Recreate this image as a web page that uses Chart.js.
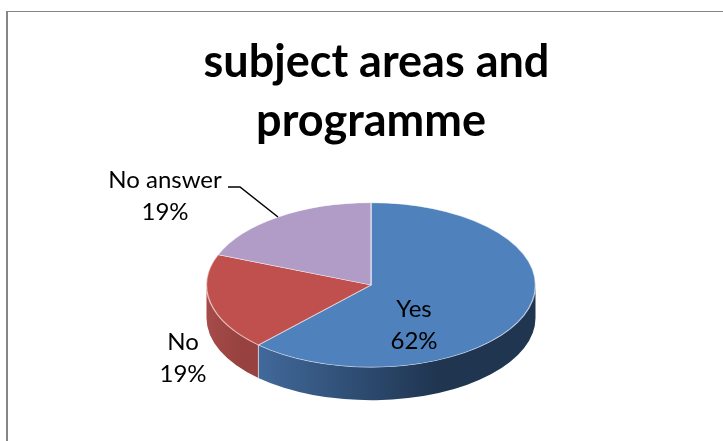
<!DOCTYPE html>
<html>
<head>
<meta charset="utf-8">
<title>subject areas and programme</title>
<script src="https://cdn.jsdelivr.net/npm/chart.js@4"></script>
<style>
    html, body { margin: 0; padding: 0; background: #fff; }
    canvas { display: block; }
</style>
</head>
<body>
<canvas id="pieChart" width="723" height="441"></canvas>
<script>
const categories = ['Yes', 'No', 'No answer'];
const values = [62, 19, 19];
const percentLabels = ['62%', '19%', '19%'];
// leading space: the first line sits a little right of the second in the original
const titleLines = [' subject areas and', 'programme'];

const topColors = ['#4f81bd', '#c0504d', '#b09cc6'];
// side wall gradient stops, left to right
const sideColors = [
    ['#41699b', '#1f3550'],
    ['#a64b49', '#974240'],
    ['#8c7aa0', '#8c7aa0']
];

const squash = 0.5;      // ellipse height / width of the tilted pie
const wallDepth = 33;
const fontName = 'Lato, Carlito, "Open Sans", sans-serif';

// label centres in the page
const labelSpots = [
    { x: 414, y: 309 },
    { x: 183, y: 342 },
    { x: 165, y: 180 }
];
const labelLineGap = 32;
const leaderLine = [[228, 187], [240, 187], [278, 217]];

// Side wall under the lower half of the pie
function drawWall(ctx, arc, stops) {
    const start = Math.max(arc.startAngle, 0);
    const end = Math.min(arc.endAngle, Math.PI);
    if (end <= start) return;
    const r = arc.outerRadius;
    const ry = r * squash;
    const x0 = arc.x + r * Math.cos(start);
    const x1 = arc.x + r * Math.cos(end);
    const grad = ctx.createLinearGradient(Math.min(x0, x1), 0, Math.max(x0, x1), 0);
    grad.addColorStop(0, stops[0]);
    grad.addColorStop(0.65, stops[1]);
    grad.addColorStop(1, stops[1]);

    ctx.beginPath();
    ctx.ellipse(arc.x, arc.y, r, ry, 0, start, end);
    ctx.ellipse(arc.x, arc.y + wallDepth, r, ry, 0, end, start, true);
    ctx.closePath();
    ctx.fillStyle = grad;
    ctx.fill();
}

const tiltPlugin = {
    id: 'tilt',
    beforeDatasetsDraw(chart) {
        const ctx = chart.ctx;
        const arcs = chart.getDatasetMeta(0).data;

        // the pie angles start at -PI/2, bring them to 0..2PI for the wall
        ctx.save();
        arcs.forEach(function(el, i) {
            const p = el.getProps(['x', 'y', 'startAngle', 'endAngle', 'outerRadius'], true);
            drawWall(ctx, p, sideColors[i]);
            drawWall(ctx, { x: p.x, y: p.y, outerRadius: p.outerRadius, startAngle: p.startAngle - 2 * Math.PI, endAngle: p.endAngle - 2 * Math.PI }, sideColors[i]);
        });
        ctx.restore();

        // boundary between the blue and red wall
        const cut = arcs[0].getProps(['x', 'y', 'endAngle', 'outerRadius'], true);
        const cx = cut.x + cut.outerRadius * Math.cos(cut.endAngle);
        const cy = cut.y + cut.outerRadius * squash * Math.sin(cut.endAngle);
        ctx.save();
        ctx.strokeStyle = 'rgba(255,255,255,0.6)';
        ctx.lineWidth = 1;
        ctx.beginPath();
        ctx.moveTo(cx, cy);
        ctx.lineTo(cx, cy + wallDepth);
        ctx.stroke();
        ctx.restore();

        // squash the top face
        ctx.save();
        ctx.translate(cut.x, cut.y);
        ctx.scale(1, squash);
        ctx.translate(-cut.x, -cut.y);
    },
    afterDatasetsDraw(chart) {
        chart.ctx.restore();
    },
    afterDraw(chart) {
        const ctx = chart.ctx;
        ctx.save();

        // outer frame, only top and left are in the picture
        ctx.fillStyle = '#868686';
        ctx.fillRect(6, 11, 2, chart.height - 11);
        ctx.fillRect(6, 11, chart.width - 6, 1);

        ctx.fillStyle = '#000';
        ctx.font = '24px ' + fontName;
        ctx.textAlign = 'center';
        ctx.textBaseline = 'middle';
        categories.forEach(function(name, i) {
            ctx.fillText(name, labelSpots[i].x, labelSpots[i].y);
            ctx.fillText(percentLabels[i], labelSpots[i].x, labelSpots[i].y + labelLineGap);
        });

        ctx.strokeStyle = '#000';
        ctx.lineWidth = 1.5;
        ctx.beginPath();
        leaderLine.forEach(function(pt, i) {
            if (i === 0) ctx.moveTo(pt[0], pt[1]);
            else ctx.lineTo(pt[0], pt[1]);
        });
        ctx.stroke();
        ctx.restore();
    }
};

new Chart(document.getElementById('pieChart'), {
    type: 'pie',
    data: {
        labels: categories,
        datasets: [{
            data: values,
            backgroundColor: topColors,
            borderColor: 'rgba(255,255,255,0.55)',
            borderWidth: 1.5,
            radius: 164.5,
            clip: false
        }]
    },
    options: {
        responsive: false,
        animation: false,
        layout: { padding: { left: 19, right: 0, top: 0, bottom: 23 } },
        plugins: {
            legend: { display: false },
            tooltip: { enabled: false },
            title: {
                display: true,
                text: titleLines,
                color: '#000',
                font: { family: fontName, size: 45, weight: 'bold', lineHeight: 1.333 },
                padding: { top: 32, bottom: 0 }
            }
        }
    },
    plugins: [tiltPlugin]
});
</script>
</body>
</html>
